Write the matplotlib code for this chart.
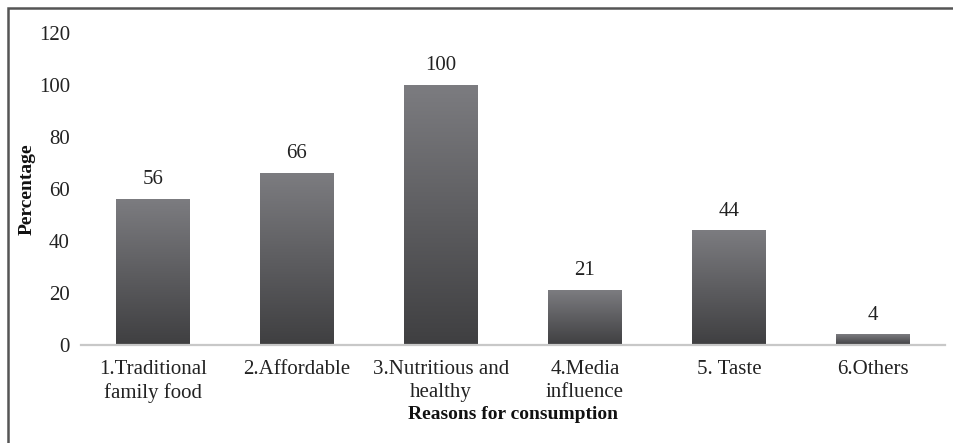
import matplotlib.pyplot as plt
import numpy as np
from matplotlib.colors import LinearSegmentedColormap
from matplotlib.patches import Rectangle

# Data
categories = ['1.Traditional\nfamily food', '2.Affordable', '3.Nutritious and\nhealthy',
              '4.Media\ninfluence', '5. Taste', '6.Others']
values = [56, 66, 100, 21, 44, 4]

plt.rcParams['font.family'] = ['Liberation Serif', 'DejaVu Serif']

fig = plt.figure(figsize=(9.54, 4.43), dpi=100)
ax = fig.add_axes([81 / 954, 98 / 443, 864 / 954, 312 / 443])

x = np.arange(len(categories))
width = 0.51
bars = ax.bar(x, values, width=width, color='none', edgecolor='none', zorder=2)

# vertical gradient per bar (lighter at top)
cmap = LinearSegmentedColormap.from_list('g', ['#3f3f41', '#7c7c80'])
grad = np.linspace(0, 1, 256).reshape(-1, 1)
for b in bars:
    x0, y0 = b.get_x(), b.get_y()
    ax.imshow(grad, cmap=cmap, origin='lower', aspect='auto', zorder=2,
              extent=[x0, x0 + b.get_width(), y0, y0 + b.get_height()])

for xi, v in zip(x, values):
    ax.annotate(str(v), (xi, v), xytext=(0, 14), textcoords='offset points',
                ha='center', va='center', fontsize=15, color='#222222')

ax.set_xlim(-0.5, len(categories) - 0.5)
ax.set_ylim(0, 120)
ax.set_yticks(range(0, 121, 20))
ax.set_xticks(x)
ax.set_xticklabels(categories, fontsize=15, color='#222222', linespacing=1.25)
ax.tick_params(axis='y', length=0, pad=8, labelsize=15, labelcolor='#222222')
ax.tick_params(axis='x', length=0, pad=11)

for s in ['top', 'right', 'left']:
    ax.spines[s].set_visible(False)
ax.spines['bottom'].set_color('#c8c8c8')
ax.spines['bottom'].set_linewidth(1.6)
ax.spines['bottom'].set_zorder(3)

ax.set_ylabel('Percentage', fontsize=14, fontweight='bold', color='#111111')
ax.set_xlabel('Reasons for consumption', fontsize=14, fontweight='bold', color='#111111')
ax.yaxis.set_label_coords(-0.053, 0.5)
ax.xaxis.set_label_coords(0.5, -0.195)

# outer frame
fig.patches.append(Rectangle((8 / 954, -0.1), 1.1, (443 - 8) / 443 + 0.1, transform=fig.transFigure,
                             fill=False, edgecolor='#555555', linewidth=1.8))

fig.savefig('out.png', dpi=100)
